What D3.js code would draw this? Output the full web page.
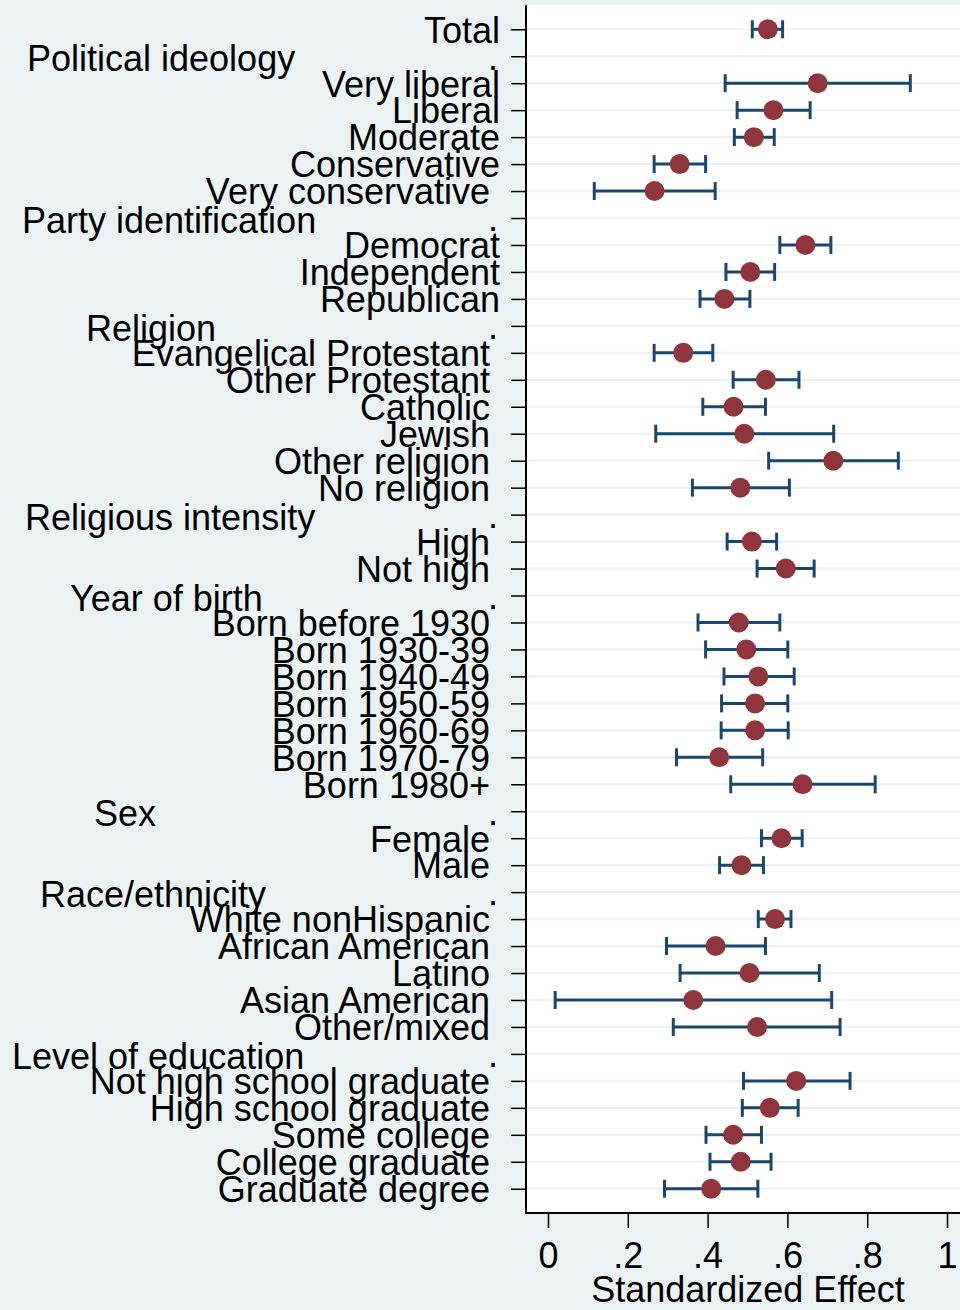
<!DOCTYPE html>
<html>
<head>
<meta charset="utf-8">
<script src="https://cdn.jsdelivr.net/npm/d3@7"></script>
<style>
  html, body { margin: 0; padding: 0; background: #eaf2f3; }
  svg { display: block; font-family: "Liberation Sans", Arial, sans-serif; }
</style>
</head>
<body>
<svg id="chart" width="960" height="1310"></svg>
<script>
// rows top to bottom, '.' marks a group header row
const rowLabels = [
  'Total',
  '.', 'Very liberal', 'Liberal', 'Moderate', 'Conservative', 'Very conservative',
  '.', 'Democrat', 'Independent', 'Republican',
  '.', 'Evangelical Protestant', 'Other Protestant', 'Catholic', 'Jewish', 'Other religion', 'No religion',
  '.', 'High', 'Not high',
  '.', 'Born before 1930', 'Born 1930-39', 'Born 1940-49', 'Born 1950-59', 'Born 1960-69', 'Born 1970-79', 'Born 1980+',
  '.', 'Female', 'Male',
  '.', 'White nonHispanic', 'African American', 'Latino', 'Asian American', 'Other/mixed',
  '.', 'Not high school graduate', 'High school graduate', 'Some college', 'College graduate', 'Graduate degree'
]

const estimate = [
  0.551,
  null, 0.676, 0.565, 0.516, 0.330, 0.267,
  null, 0.645, 0.507, 0.442,
  null, 0.339, 0.546, 0.465, 0.492, 0.715, 0.482,
  null, 0.511, 0.596,
  null, 0.478, 0.497, 0.527, 0.519, 0.519, 0.429, 0.638,
  null, 0.585, 0.485,
  null, 0.569, 0.420, 0.505, 0.364, 0.524,
  null, 0.622, 0.556, 0.464, 0.483, 0.409
]

const ciLow = [
  0.512,
  null, 0.444, 0.474, 0.467, 0.266, 0.116,
  null, 0.581, 0.446, 0.381,
  null, 0.266, 0.464, 0.388, 0.270, 0.553, 0.362,
  null, 0.449, 0.524,
  null, 0.376, 0.395, 0.441, 0.435, 0.434, 0.322, 0.458,
  null, 0.535, 0.430,
  null, 0.527, 0.297, 0.331, 0.018, 0.314,
  null, 0.490, 0.487, 0.396, 0.406, 0.292
]

const ciHigh = [
  0.588,
  null, 0.908, 0.657, 0.567, 0.395, 0.419,
  null, 0.709, 0.568, 0.506,
  null, 0.413, 0.629, 0.545, 0.716, 0.878, 0.605,
  null, 0.573, 0.667,
  null, 0.581, 0.601, 0.617, 0.601, 0.602, 0.538, 0.820,
  null, 0.637, 0.540,
  null, 0.609, 0.545, 0.680, 0.711, 0.732,
  null, 0.757, 0.627, 0.535, 0.559, 0.526
]

const groupHeaders = [
  'Political ideology', 'Party identification', 'Religion', 'Religious intensity',
  'Year of birth', 'Sex', 'Race/ethnicity', 'Level of education'
]

const xTicks = [0, 0.2, 0.4, 0.6, 0.8, 1]
const xTickLabels = ['0', '.2', '.4', '.6', '.8', '1']
const xTitle = 'Standardized Effect'

// layout / styling
const plot = { left: 526, top: 5, bottom: 1213, right: 960 }
const headerLeft = [27, 22, 86, 25, 70, 94, 40, 12]
const fontSize = 36
const colors = { bg: '#eaf2f3', grid: '#eaf2f3', marker: '#90353b', ci: '#1a476f' }

const rows = rowLabels.map((label, i) => ({
  i, label,
  est: estimate[i], lo: ciLow[i], hi: ciHigh[i]
}))

const svg = d3.select('#chart')

const x = d3.scaleLinear().domain([0, 1]).range([548, 947])
const y = d3.scalePoint().domain(d3.range(rows.length)).range([plot.top, plot.bottom]).padding(0.9)

svg.append('rect')
  .attr('width', 960).attr('height', 1310)
  .attr('fill', colors.bg)

svg.append('rect')
  .attr('x', plot.left).attr('y', plot.top)
  .attr('width', plot.right - plot.left).attr('height', plot.bottom - plot.top)
  .attr('fill', '#fff')

// horizontal grid at every row
svg.append('g')
  .selectAll('line')
  .data(rows)
  .join('line')
  .attr('x1', plot.left).attr('x2', plot.right)
  .attr('y1', d => y(d.i)).attr('y2', d => y(d.i))
  .attr('stroke', colors.grid)
  .attr('stroke-width', 2.2)

// y axis ticks, labels are drawn separately
const yAxis = d3.axisLeft(y)
  .tickSize(15)
  .tickPadding(0)
  .tickFormat(() => '')

const gy = svg.append('g')
  .attr('transform', `translate(${plot.left},0)`)
  .call(yAxis)
gy.select('.domain').remove()
gy.selectAll('.tick line').attr('stroke', '#000').attr('stroke-width', 1.5)

function labelEnd(d) {
  if (d.label === '.') return 498
  if (d.i <= 10 && d.label !== 'Very conservative') return 500
  return 490
}

svg.append('g')
  .selectAll('text')
  .data(rows)
  .join('text')
  .attr('x', labelEnd)
  .attr('y', d => y(d.i))
  .attr('dy', '0.37em')
  .attr('text-anchor', 'end')
  .attr('font-size', fontSize)
  .attr('fill', '#000')
  .text(d => d.label)

// group headers sit just below their '.' row
const headerRows = rows.filter(d => d.label === '.')
svg.append('g')
  .selectAll('text')
  .data(groupHeaders)
  .join('text')
  .attr('x', (d, k) => headerLeft[k])
  .attr('y', (d, k) => y(headerRows[k].i))
  .attr('dy', '0.42em')
  .attr('font-size', fontSize)
  .attr('fill', '#000')
  .text(d => d)

// confidence intervals
const values = rows.filter(d => d.est != null)
const ci = svg.append('g')
  .attr('stroke', colors.ci)
  .attr('stroke-width', 3)

ci.selectAll('line.bar')
  .data(values)
  .join('line')
  .attr('class', 'bar')
  .attr('x1', d => x(d.lo)).attr('x2', d => x(d.hi))
  .attr('y1', d => y(d.i)).attr('y2', d => y(d.i))

ci.selectAll('line.cap-lo')
  .data(values)
  .join('line')
  .attr('class', 'cap-lo')
  .attr('x1', d => x(d.lo)).attr('x2', d => x(d.lo))
  .attr('y1', d => y(d.i) - 9).attr('y2', d => y(d.i) + 9)

ci.selectAll('line.cap-hi')
  .data(values)
  .join('line')
  .attr('class', 'cap-hi')
  .attr('x1', d => x(d.hi)).attr('x2', d => x(d.hi))
  .attr('y1', d => y(d.i) - 9).attr('y2', d => y(d.i) + 9)

// point estimates
svg.append('g')
  .selectAll('circle')
  .data(values)
  .join('circle')
  .attr('cx', d => x(d.est))
  .attr('cy', d => y(d.i))
  .attr('r', 10)
  .attr('fill', colors.marker)

// axis lines
svg.append('line')
  .attr('x1', plot.left).attr('x2', plot.left)
  .attr('y1', plot.top).attr('y2', plot.bottom + 1)
  .attr('stroke', '#000').attr('stroke-width', 2)
svg.append('line')
  .attr('x1', plot.left - 1).attr('x2', plot.right)
  .attr('y1', plot.bottom).attr('y2', plot.bottom)
  .attr('stroke', '#000').attr('stroke-width', 2)

// x axis
const xAxis = d3.axisBottom(x)
  .tickValues(xTicks)
  .tickSize(15)
  .tickPadding(6)
  .tickFormat((d, k) => xTickLabels[k])

const gx = svg.append('g')
  .attr('transform', `translate(0,${plot.bottom})`)
  .call(xAxis)
gx.select('.domain').remove()
gx.selectAll('.tick line').attr('stroke', '#000').attr('stroke-width', 1.5)
gx.selectAll('.tick text')
  .attr('font-size', fontSize)
  .attr('font-family', '"Liberation Sans", Arial, sans-serif')
  .attr('fill', '#000')
  .attr('dy', null)
  .attr('y', 55)

svg.append('text')
  .attr('x', 748)
  .attr('y', 1302)
  .attr('text-anchor', 'middle')
  .attr('font-size', fontSize)
  .attr('fill', '#000')
  .text(xTitle)
</script>
</body>
</html>
